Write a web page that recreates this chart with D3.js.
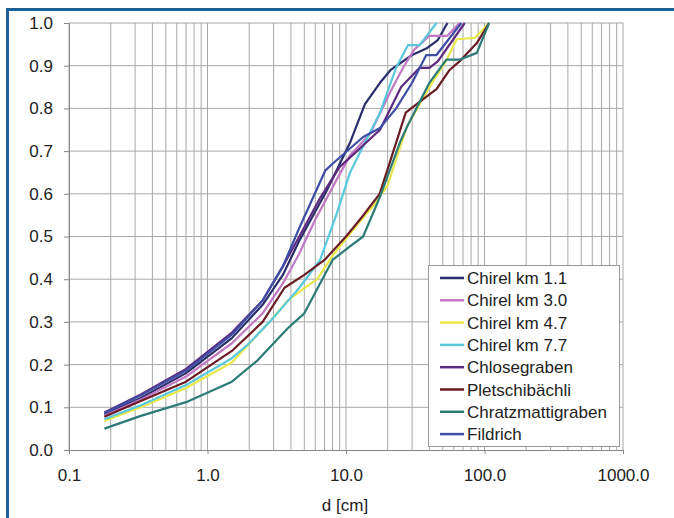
<!DOCTYPE html>
<html>
<head>
<meta charset="utf-8">
<script src="https://cdn.jsdelivr.net/npm/d3@7"></script>
<style>
  body { margin: 0; background: #fff; }
  svg { display: block; font-family: "Liberation Sans", Arial, sans-serif; }
</style>
</head>
<body>
<svg id="chart" width="674" height="518"></svg>
<script>
// grain size distributions, d in cm vs. fraction finer
const seriesNames = ["Chirel km 1.1", "Chirel km 3.0", "Chirel km 4.7", "Chirel km 7.7",
                     "Chlosegraben", "Pletschibächli", "Chratzmattigraben", "Fildrich"];
const seriesColors = ["#2a2d6b", "#c278c4", "#e8e84a", "#5ac8dc",
                      "#5e2a7e", "#6a1c24", "#2d7b76", "#3e4ea6"];

const chirel11 = [[0.18,0.083],[0.33,0.122],[0.7,0.18],[1.5,0.262],[2.5,0.34],[3.5,0.41],[4.6,0.49],
  [7.3,0.609],[10.7,0.72],[13.7,0.81],[17.6,0.86],[21,0.89],[30,0.925],[38,0.94],[46,0.96],[54,1.0]];
const chirel30 = [[0.18,0.08],[0.33,0.118],[0.7,0.172],[1.5,0.25],[2.5,0.32],[3.5,0.39],[4.6,0.46],
  [6,0.54],[8.3,0.625],[10.7,0.69],[14.9,0.74],[21,0.84],[26,0.897],[31,0.937],[40,0.97],[54,0.97],[66,1.0]];
const chirel47 = [[0.18,0.068],[0.33,0.1],[0.7,0.145],[1.5,0.205],[2.8,0.3],[3.8,0.35],[4.8,0.375],
  [6.2,0.4],[8,0.455],[10.3,0.5],[13,0.54],[16,0.575],[20,0.62],[27.5,0.757],[40,0.85],[53,0.912],
  [63,0.962],[85,0.965],[108,1.0]];
const chirel77 = [[0.18,0.072],[0.33,0.105],[0.7,0.152],[1.5,0.215],[2,0.25],[3,0.31],[4.6,0.38],
  [6.5,0.445],[8.5,0.55],[10.7,0.65],[13.7,0.72],[17.6,0.79],[23,0.895],[28,0.948],[34,0.948],[45,1.0]];
const chlosegraben = [[0.18,0.088],[0.33,0.13],[0.7,0.19],[1.5,0.275],[2.5,0.35],[3.5,0.43],[4.6,0.5],
  [6.5,0.59],[9,0.663],[12,0.7],[17.6,0.75],[25,0.85],[34,0.895],[40,0.895],[46,0.91],[72,1.0]];
const pletschi = [[0.18,0.078],[0.33,0.115],[0.7,0.16],[1.5,0.232],[2.5,0.3],[3.6,0.38],[5,0.41],
  [7,0.445],[10,0.5],[13,0.545],[17.5,0.6],[22,0.7],[27,0.79],[34,0.815],[45,0.845],[56,0.89],
  [66,0.91],[88,0.953],[108,1.0]];
const chratz = [[0.18,0.05],[0.33,0.08],[0.7,0.112],[1.5,0.16],[2.3,0.21],[3.8,0.285],[5,0.32],
  [6.5,0.39],[8,0.445],[10.5,0.475],[13.3,0.5],[17.6,0.593],[24.5,0.72],[27.6,0.757],[40,0.86],
  [53,0.914],[66,0.914],[88,0.93],[108,1.0]];
const fildrich = [[0.18,0.086],[0.33,0.128],[0.7,0.186],[1.5,0.27],[2.5,0.35],[3.5,0.43],[4.6,0.52],
  [7.1,0.655],[8.3,0.675],[13.3,0.733],[17.6,0.754],[23,0.8],[30,0.86],[38,0.925],[45,0.925],[68,1.0]];

const seriesData = [chirel11, chirel30, chirel47, chirel77, chlosegraben, pletschi, chratz, fildrich];

const xTicks = [0.1, 1, 10, 100, 1000];
const yTicks = [0, 0.1, 0.2, 0.3, 0.4, 0.5, 0.6, 0.7, 0.8, 0.9, 1.0];

const svg = d3.select("#chart");

// blue frame
svg.append("rect")
  .attr("x", 7.5).attr("y", 9.5)
  .attr("width", 720).attr("height", 600)
  .attr("fill", "none")
  .attr("stroke", "#1b6098")
  .attr("stroke-width", 3);

const x = d3.scaleLog().domain([0.1, 1000]).range([69, 623]);
const y = d3.scaleLinear().domain([0, 1]).range([450, 23]);

// grid
const minor = x.ticks();
svg.append("g").selectAll("line")
  .data(minor)
  .enter().append("line")
  .attr("x1", d => x(d)).attr("x2", d => x(d))
  .attr("y1", y(0)).attr("y2", y(1))
  .attr("stroke", "#a8a8a8").attr("stroke-width", 1);

svg.append("g").selectAll("line")
  .data(yTicks.slice(1))
  .enter().append("line")
  .attr("x1", x(0.1)).attr("x2", x(1000))
  .attr("y1", d => y(d)).attr("y2", d => y(d))
  .attr("stroke", "#a8a8a8").attr("stroke-width", 1);

// axes
const xAxis = svg.append("g")
  .attr("transform", `translate(0,${y(0)})`)
  .call(d3.axisBottom(x).tickValues(xTicks).tickSize(4).tickPadding(15)
    .tickFormat(d => d3.format(".1f")(d)));
const yAxis = svg.append("g")
  .attr("transform", `translate(${x(0.1)},0)`)
  .call(d3.axisLeft(y).tickValues(yTicks).tickSize(5).tickPadding(11)
    .tickFormat(d3.format(".1f")));

[xAxis, yAxis].forEach(a => {
  a.selectAll("path, line").attr("stroke", "#888");
  a.selectAll("text").attr("font-size", 17).attr("fill", "#222")
    .attr("font-family", "'Liberation Sans', Arial, sans-serif");
});

svg.append("text")
  .attr("x", 345).attr("y", 511)
  .attr("text-anchor", "middle")
  .attr("font-size", 17).attr("fill", "#222")
  .text("d [cm]");

// series
const line = d3.line().x(d => x(d[0])).y(d => y(d[1]));
svg.append("g").selectAll("path")
  .data(seriesData)
  .enter().append("path")
  .attr("d", line)
  .attr("fill", "none")
  .attr("stroke", (d, i) => seriesColors[i])
  .attr("stroke-width", 2.2)
  .attr("stroke-linejoin", "round");

// legend
const lg = svg.append("g");
lg.append("rect")
  .attr("x", 428.5).attr("y", 265.5)
  .attr("width", 191).attr("height", 181)
  .attr("fill", "#fff").attr("stroke", "#999");

const rows = lg.selectAll("g.row")
  .data(seriesNames)
  .enter().append("g")
  .attr("transform", (d, i) => `translate(0,${278 + i * 22.3})`);
rows.append("line")
  .attr("x1", 440).attr("x2", 464)
  .attr("stroke", (d, i) => seriesColors[i])
  .attr("stroke-width", 2.5);
rows.append("text")
  .attr("x", 467).attr("dy", "0.36em")
  .attr("font-size", 17).attr("fill", "#222")
  .text(d => d);
</script>
</body>
</html>
